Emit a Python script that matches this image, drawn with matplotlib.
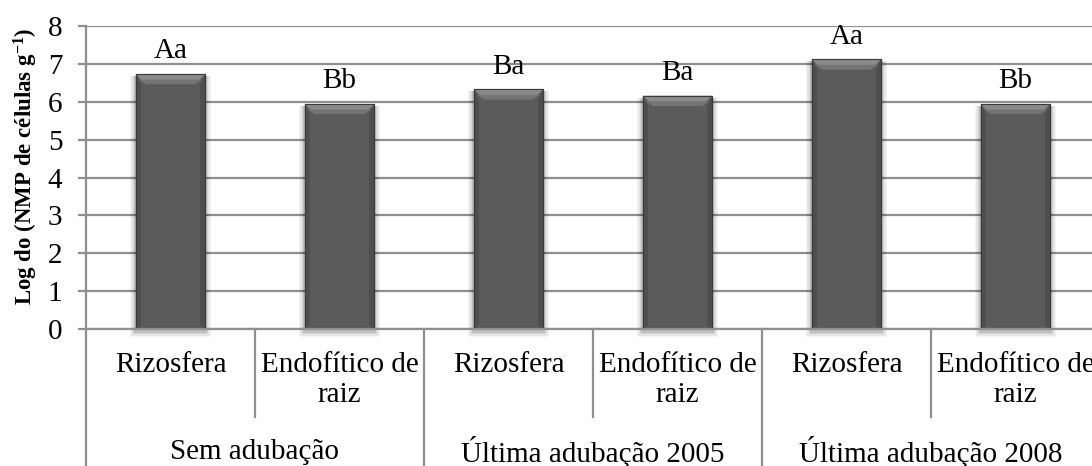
import matplotlib
matplotlib.use("Agg")
import matplotlib.pyplot as plt
from matplotlib.patches import Polygon, Rectangle

plt.rcParams['font.family'] = ['Liberation Serif', 'DejaVu Serif']
plt.rcParams['mathtext.fontset'] = 'custom'
plt.rcParams['mathtext.rm'] = 'Liberation Serif'
plt.rcParams['mathtext.bf'] = 'Liberation Serif:bold'
plt.rcParams['mathtext.it'] = 'Liberation Serif:italic'

# data
sub_labels = ["Rizosfera", "Endofítico de\nraiz", "Rizosfera", "Endofítico de\nraiz",
              "Rizosfera", "Endofítico de\nraiz"]
group_labels = ["Sem adubação", "Última adubação 2005", "Última adubação 2008"]
values = [6.73, 5.94, 6.33, 6.16, 7.12, 5.94]
letters = ["Aa", "Bb", "Ba", "Ba", "Aa", "Bb"]
yticks = [0, 1, 2, 3, 4, 5, 6, 7, 8]
ylabel = "Log do (NMP de células g$^{\\mathbf{-1}}$)"

FS = 21
W, H = 1092, 466
fig = plt.figure(figsize=(W / 100, H / 100), dpi=100)
ax_left, ax_right, ax_top, ax_bot = 86, 1100, 26, 329
ax = fig.add_axes([ax_left / W, 1 - ax_bot / H, (ax_right - ax_left) / W, (ax_bot - ax_top) / H])

x = list(range(len(values)))
bw = 0.41
grid_c = "#8f8f8f"

ax.set_xlim(-0.5, len(values) - 0.5)
ax.set_ylim(0, 8)
ax.set_yticks(yticks)
ax.set_yticklabels([str(t) for t in yticks], fontsize=FS)
ax.yaxis.grid(True, color=grid_c, lw=1.6, zorder=0)
ax.set_axisbelow(True)
ax.tick_params(axis='y', length=6, width=1.6, color=grid_c, pad=11)
ax.set_xticks([])
for s in ["top", "right", "bottom"]:
    ax.spines[s].set_visible(False)
ax.spines["left"].set_color(grid_c)
ax.spines["left"].set_linewidth(1.6)

# bars
bars = ax.bar(x, values, width=bw, color="#5b5b5b", edgecolor="#3c3c3c", lw=0.8, zorder=3)

px_per_y = (ax_bot - ax_top) / 8.0
px_per_x = (ax_right - ax_left) / len(values)
bev_y = 10 / px_per_y
bev_x = 10 / px_per_x
for b in bars:
    x0 = b.get_x(); x1 = x0 + b.get_width(); h = b.get_height()
    # shadow
    for k, a in enumerate([0.10, 0.08, 0.06, 0.04]):
        dx = (k + 1) * 1.5 / px_per_x
        dy = (k + 1) * 1.5 / px_per_y
        ax.add_patch(Rectangle((x0 - dx, -dy - 2 / px_per_y), (x1 - x0) + 2 * dx, h + dy,
                               facecolor="black", alpha=a, lw=0, zorder=2, clip_on=False))
    # top bevel
    ax.add_patch(Polygon([(x0, h), (x1, h), (x1 - bev_x, h - bev_y), (x0 + bev_x, h - bev_y)],
                         closed=True, facecolor="#8a8a8a", edgecolor="none", zorder=4))
    ax.add_patch(Polygon([(x0 + bev_x * 0.3, h - bev_y * 0.55), (x1 - bev_x * 0.3, h - bev_y * 0.55),
                          (x1 - bev_x, h - bev_y), (x0 + bev_x, h - bev_y)],
                         closed=True, facecolor="#747474", edgecolor="none", zorder=4))
    # side bevels
    ax.add_patch(Polygon([(x0, h), (x0 + bev_x * 0.5, h - bev_y), (x0 + bev_x * 0.5, bev_y * 0.3), (x0, 0)],
                         closed=True, facecolor="#4e4e4e", edgecolor="none", zorder=4))
    ax.add_patch(Polygon([(x1, h), (x1 - bev_x * 0.5, h - bev_y), (x1 - bev_x * 0.5, bev_y * 0.3), (x1, 0)],
                         closed=True, facecolor="#4e4e4e", edgecolor="none", zorder=4))
    ax.plot([x0, x1, x1, x0, x0], [0, 0, h, h, 0], color="#3a3a3a", lw=0.8, zorder=5)

# letter labels
for xi, v, t in zip(x, values, letters):
    ax.annotate(t, (xi, v), xytext=(0, 7), textcoords="offset points",
                ha="center", va="bottom", fontsize=FS)

# category axis
trans = ax.get_xaxis_transform()
y_short = -(417 - ax_bot) / (ax_bot - ax_top)
y_long = -(H - ax_bot) / (ax_bot - ax_top)
ax.plot([-0.5, len(values) - 0.5], [0, 0], transform=trans, color=grid_c, lw=1.6, clip_on=False, zorder=6)
for i in range(len(values) + 1):
    xs = i - 0.5
    yend = y_long if i % 2 == 0 else y_short
    ax.plot([xs, xs], [0, yend], transform=trans, color=grid_c, lw=1.6, clip_on=False)

y_sub = -(352 - ax_bot) / (ax_bot - ax_top)
for xi, lab in zip(x, sub_labels):
    ax.text(xi, y_sub, lab, transform=trans, ha="center", va="top", fontsize=FS,
            linespacing=1.2, clip_on=False)
y_grp = -(452 - ax_bot) / (ax_bot - ax_top)
for gi, lab in enumerate(group_labels):
    ax.text(2 * gi + 0.5, y_grp, lab, transform=trans, ha="center", va="center", fontsize=FS)

fig.text(26 / W, 1 - 166 / H, ylabel, rotation=90, ha="center", va="center",
         fontsize=16.5, fontweight="bold")

fig.savefig("out.png", dpi=100)
